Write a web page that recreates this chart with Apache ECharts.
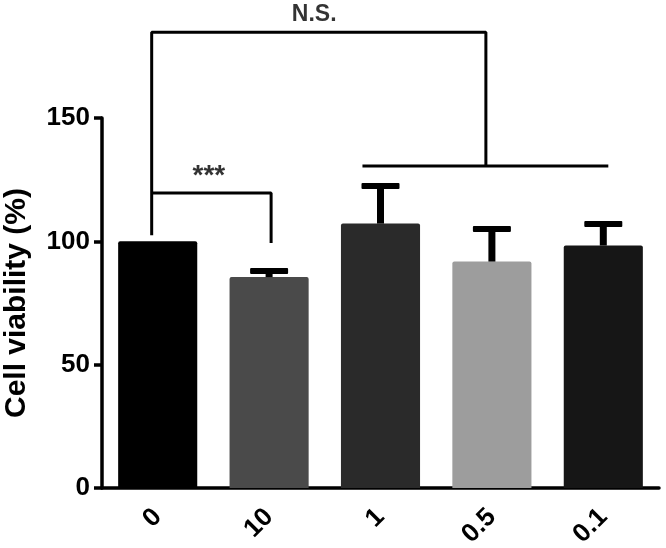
<!DOCTYPE html>
<html><head><meta charset="utf-8">
<script src="https://cdn.jsdelivr.net/npm/echarts@6/dist/echarts.min.js"></script>
<style>html,body{margin:0;padding:0;background:#fff}#c{width:666px;height:548px}</style>
</head><body><div id="c"></div>
<script>
const categories = ['0', '10', '1', '0.5', '0.1'];
const viability = [100, 85.5, 107.2, 91.8, 98.3];
const errorTop = [100, 88.0, 122.4, 105.0, 107.0];
const barColors = ['#000000', '#4a4a4a', '#2a2a2a', '#9d9d9d', '#161616'];
const yMin = 0, yMax = 150, yStep = 50;
const yName = 'Cell viability (%)';
// significance brackets (x in category-index units, y in %)
const nsBracket = [[-0.054, 102.5], [-0.054, 184.8], [2.946, 184.8], [2.946, 130.5]];
const groupLine = [[1.838, 130.5], [4.045, 130.5]];
const starBracket = [[-0.054, 119.6], [1.018, 119.6], [1.018, 99.3]];
const annotTexts = ['N.S.', '***'];
const annotX = [1.405, 0.459];
const annotY = [192, 126.5];

const FONT = "'Liberation Sans', Arial, Helvetica, sans-serif";
const chart = echarts.init(document.getElementById('c'), null, {renderer: 'canvas'});

const lineStyle = {color: '#000', width: 3};
function bracketSeries(pts) {
  return {
    type: 'line', xAxisIndex: 1, yAxisIndex: 0, data: pts, symbol: 'none',
    clip: false, silent: true, lineStyle: lineStyle, z: 5, animation: false
  };
}
const annotStyles = [
  {fontSize: 23, fontWeight: 'bold'},
  {fontSize: 28, fontWeight: 'bold'}
];

chart.setOption({
  animation: false,
  backgroundColor: '#ffffff',
  grid: {left: 102, right: 7, top: 118, bottom: 60, containLabel: false, outerBoundsMode: 'none'},
  xAxis: [{
    type: 'category', data: categories,
    axisLine: {onZero: false, lineStyle: {color: '#000', width: 3.5}},
    axisTick: {alignWithLabel: true, length: 10, lineStyle: {color: '#000', width: 3.5}},
    axisLabel: {rotate: 45, margin: 25, color: '#000', fontSize: 26, fontWeight: 'bold', fontFamily: FONT},
    splitLine: {show: false}
  }, {
    type: 'value', min: -0.5, max: 4.5, show: false
  }],
  yAxis: [{
    type: 'value', min: yMin, max: yMax, interval: yStep,
    name: yName, nameLocation: 'middle', nameGap: 70, nameRotate: 90,
    nameTextStyle: {color: '#000', fontSize: 30, fontWeight: 'bold', fontFamily: FONT},
    axisLine: {show: true, onZero: false, lineStyle: {color: '#000', width: 3.5}},
    axisTick: {show: true, length: 8, lineStyle: {color: '#000', width: 3.5}},
    axisLabel: {margin: 12, color: '#000', fontSize: 26, fontWeight: 'bold', fontFamily: FONT},
    splitLine: {show: false}
  }],
  series: [
    {
      type: 'bar', barWidth: '71%',
      data: viability.map((v, i) => ({value: v, itemStyle: {color: barColors[i], borderRadius: [2, 2, 0, 0]}})),
      z: 2
    },
    {
      type: 'custom', z: 3,
      data: viability.map((v, i) => [i, v, errorTop[i]]),
      renderItem: function (params, api) {
        const lo = api.value(1), hi = api.value(2);
        if (!(hi > lo)) return null;
        const p0 = api.coord([api.value(0), lo]);
        const p1 = api.coord([api.value(0), hi]);
        return {type: 'group', children: [
          {type: 'rect', shape: {x: p0[0] - 3.5, y: p1[1], width: 7, height: p0[1] - p1[1]}, style: {fill: '#000'}},
          {type: 'rect', shape: {x: p0[0] - 19, y: p1[1] - 3, width: 38, height: 6, r: 1}, style: {fill: '#000'}}
        ]};
      }
    },
    bracketSeries(nsBracket),
    bracketSeries(groupLine),
    bracketSeries(starBracket),
    {
      type: 'scatter', xAxisIndex: 1, yAxisIndex: 0, clip: false, silent: true,
      symbolSize: 0, z: 6,
      data: annotTexts.map((t, i) => ({
        value: [annotX[i], annotY[i]], name: t,
        label: Object.assign({show: true, position: 'inside', color: '#000', fontFamily: FONT,
          formatter: '{b}'}, annotStyles[i])
      }))
    }
  ]
});
</script>
</body></html>
